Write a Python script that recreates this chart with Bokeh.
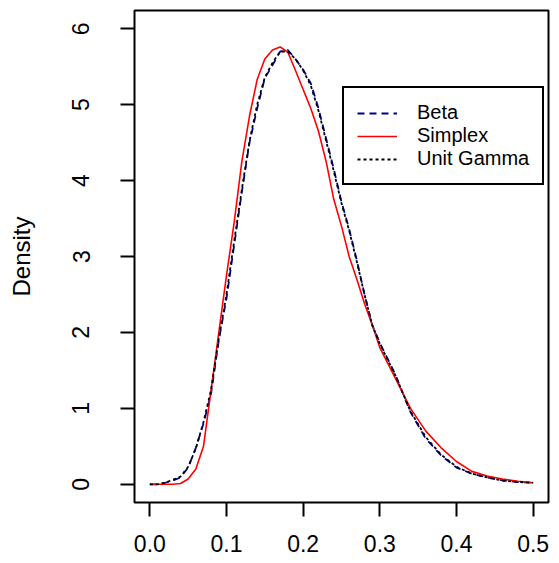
from bokeh.plotting import figure
from bokeh.models import Range1d, FixedTicker, Legend, LegendItem, NumeralTickFormatter
from bokeh.embed import file_html
from bokeh.resources import INLINE

# ---- data ----
x_simplex = [0.0, 0.02, 0.03, 0.04, 0.05, 0.06, 0.07, 0.08, 0.09, 0.10, 0.11, 0.12, 0.13,
             0.14, 0.15, 0.16, 0.17, 0.18, 0.19, 0.20, 0.21, 0.22, 0.23, 0.24, 0.25, 0.26,
             0.27, 0.28, 0.29, 0.30, 0.32, 0.34, 0.36, 0.38, 0.40, 0.42, 0.44, 0.46, 0.48, 0.50]
y_simplex = [0.0, 0.0, 0.0, 0.01, 0.07, 0.2, 0.5, 1.25, 2.0, 2.75, 3.45, 4.25, 4.85,
             5.33, 5.6, 5.72, 5.76, 5.69, 5.45, 5.2, 4.95, 4.65, 4.25, 3.75, 3.4, 3.0,
             2.7, 2.38, 2.1, 1.8, 1.4, 1.0, 0.7, 0.48, 0.3, 0.17, 0.11, 0.07, 0.04, 0.02]

x_beta = [0.0, 0.01, 0.02, 0.03, 0.04, 0.05, 0.06, 0.07, 0.08, 0.09, 0.10, 0.11, 0.12, 0.13,
          0.14, 0.15, 0.16, 0.17, 0.18, 0.19, 0.20, 0.21, 0.22, 0.23, 0.24, 0.25, 0.26,
          0.27, 0.28, 0.29, 0.30, 0.32, 0.34, 0.36, 0.38, 0.40, 0.42, 0.44, 0.46, 0.48, 0.50]
y_beta = [0.0, 0.0, 0.02, 0.05, 0.09, 0.22, 0.48, 0.8, 1.2, 1.9, 2.45, 3.15, 3.85, 4.5,
          4.95, 5.35, 5.52, 5.7, 5.72, 5.6, 5.46, 5.28, 4.95, 4.55, 4.15, 3.72, 3.36,
          2.95, 2.5, 2.1, 1.86, 1.45, 0.95, 0.6, 0.38, 0.22, 0.14, 0.09, 0.05, 0.03, 0.02]

x_gamma = x_beta
y_gamma = [0.0, 0.0, 0.02, 0.06, 0.1, 0.23, 0.47, 0.82, 1.25, 1.92, 2.5, 3.2, 3.88, 4.52,
           5.0, 5.36, 5.55, 5.7, 5.7, 5.6, 5.45, 5.25, 4.92, 4.52, 4.12, 3.7, 3.34,
           2.93, 2.5, 2.1, 1.85, 1.44, 0.96, 0.62, 0.39, 0.23, 0.14, 0.09, 0.05, 0.03, 0.02]

x_ticks = [0.0, 0.1, 0.2, 0.3, 0.4, 0.5]
y_ticks = [0, 1, 2, 3, 4, 5, 6]
series_names = ["Beta", "Simplex", "Unit Gamma"]

FONT = "Liberation Sans"

p = figure(width=559, height=563, output_backend="svg", toolbar_location=None,
           x_range=Range1d(-0.02, 0.52), y_range=Range1d(-0.24, 6.24),
           min_border_left=134, min_border_right=11, min_border_top=10, min_border_bottom=61)

p.xgrid.visible = False
p.ygrid.visible = False
p.outline_line_color = "black"
p.outline_line_width = 2
p.background_fill_color = "white"
p.border_fill_color = "white"

for ax, ticks in ((p.xaxis[0], x_ticks), (p.yaxis[0], y_ticks)):
    ax.ticker = FixedTicker(ticks=ticks)
    ax.minor_tick_line_color = None
    ax.axis_line_color = None
    ax.major_tick_in = 0
    ax.major_tick_out = 14
    ax.major_tick_line_width = 2
    ax.major_tick_line_color = "black"
    ax.major_label_text_font = FONT
    ax.major_label_text_font_size = "23px"
    ax.major_label_text_color = "black"

p.xaxis[0].formatter = NumeralTickFormatter(format="0.0")
p.xaxis[0].major_label_standoff = 18
p.yaxis[0].major_label_standoff = 31
p.yaxis[0].major_label_orientation = "vertical"
p.yaxis[0].axis_label = "Density"
p.yaxis[0].axis_label_text_font = FONT
p.yaxis[0].axis_label_text_font_size = "24px"
p.yaxis[0].axis_label_text_font_style = "normal"
p.yaxis[0].axis_label_text_color = "black"
p.yaxis[0].axis_label_standoff = 35

r_beta = p.line(x_beta, y_beta, line_color="#00008B", line_width=1.8, line_dash="7 5")
r_simplex = p.line(x_simplex, y_simplex, line_color="red", line_width=1.6)
r_gamma = p.line(x_gamma, y_gamma, line_color="black", line_width=1.8, line_dash="3 3")

legend = Legend(items=[LegendItem(label=series_names[0], renderers=[r_beta]),
                       LegendItem(label=series_names[1], renderers=[r_simplex]),
                       LegendItem(label=series_names[2], renderers=[r_gamma])],
                location=(208, 317), margin=0, padding=13, spacing=0,
                glyph_width=40, glyph_height=22, label_height=22,
                label_standoff=20, label_text_font=FONT, label_text_font_size="20px",
                label_text_color="black",
                border_line_color="black", border_line_width=2, border_line_alpha=1.0,
                background_fill_color="white", background_fill_alpha=1.0)
p.add_layout(legend, "center")

open("out.html", "w").write(file_html(p, INLINE))
